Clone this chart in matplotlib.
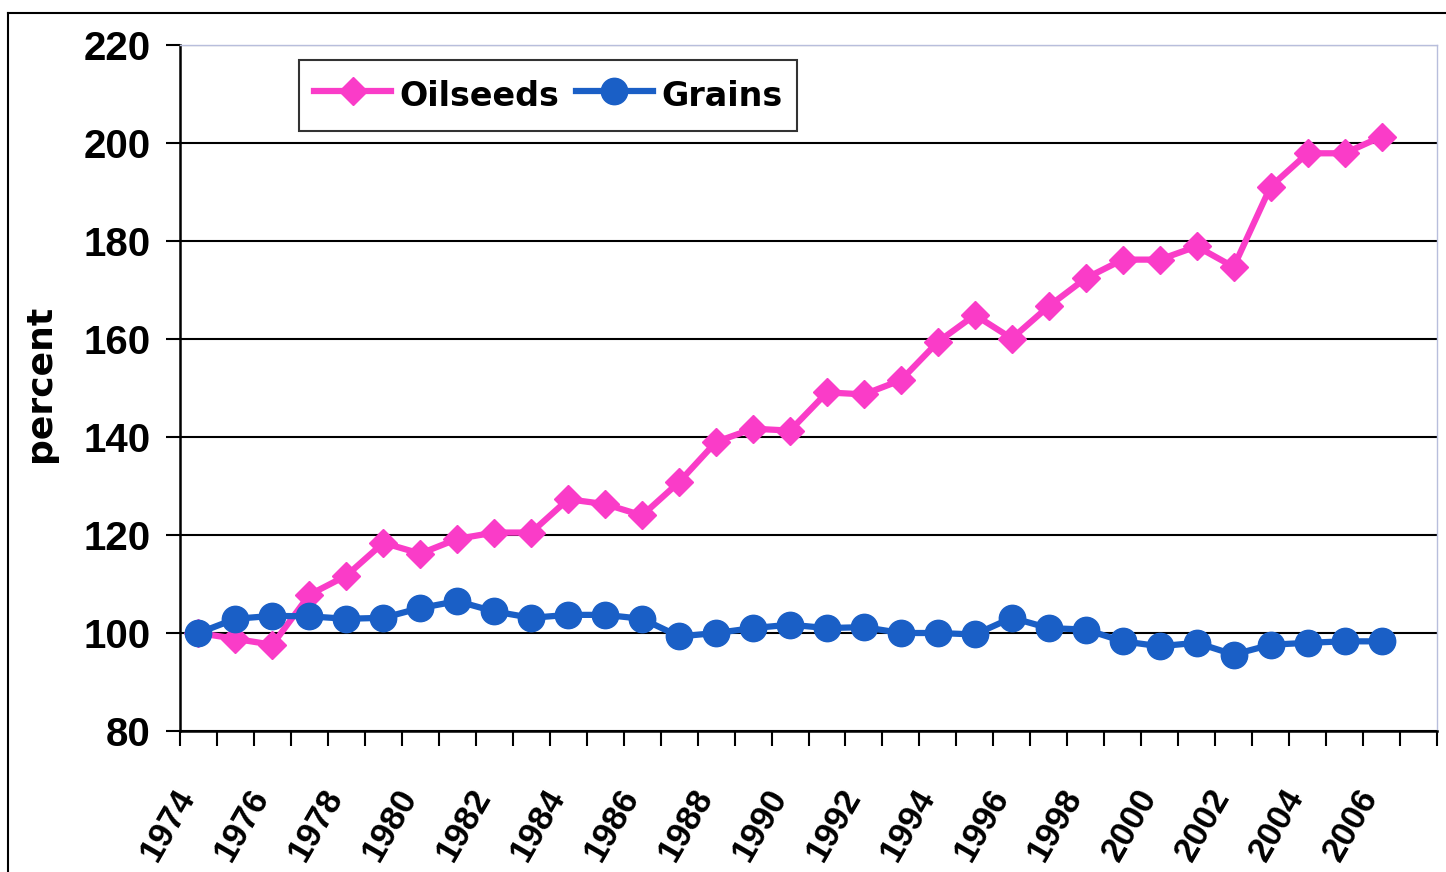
import numpy as np
import matplotlib
matplotlib.use('Agg')
import matplotlib.pyplot as plt
import matplotlib.transforms as mtransforms
from matplotlib.lines import Line2D

# Daten
years = list(range(1974, 2008))  # 2007 ist leere Kategorie
oilseeds = [100.0, 98.8, 97.6, 107.8, 111.7, 118.4, 116.2, 119.2, 120.5, 120.5,
            127.3, 126.3, 124.0, 130.8, 139.0, 141.7, 141.3, 149.1, 148.7, 151.6,
            159.4, 164.9, 160.1, 166.7, 172.4, 176.2, 176.2, 178.9, 174.7, 191.1,
            197.9, 197.9, 201.3]
grains = [100.0, 102.9, 103.5, 103.4, 102.9, 103.1, 105.1, 106.5, 104.4, 103.1,
          103.7, 103.7, 102.9, 99.3, 100.0, 101.0, 101.7, 101.0, 101.2, 100.0,
          100.0, 99.7, 103.1, 101.0, 100.7, 98.3, 97.3, 98.0, 95.6, 97.6,
          98.0, 98.3, 98.3]
y_ticks = [80, 100, 120, 140, 160, 180, 200, 220]

pink = '#FA3CC8'
blue = '#1A5FC6'
tickfont = ['Liberation Sans', 'DejaVu Sans']

fig = plt.figure(figsize=(14.46, 8.72), dpi=100)
ax = fig.add_axes([180/1446, 1-731/872, (1437-180)/1446, (731-45)/872])

x = np.arange(len(oilseeds))
ax.plot(x, oilseeds, '-D', color=pink, lw=4.5, ms=14, label='Oilseeds', zorder=3)
ax.plot(x, grains, '-o', color=blue, lw=4.5, ms=19, label='Grains', zorder=4)

ax.set_xlim(-0.5, len(years) - 0.5)
ax.set_ylim(80, 220)

ax.set_yticks(y_ticks)
ax.set_yticklabels([str(v) for v in y_ticks], fontsize=29, fontweight='bold', family=tickfont)
ax.tick_params(axis='y', length=10, width=1.5, pad=11, direction='out')
ax.yaxis.grid(True, color='black', lw=1.5)
ax.set_axisbelow(True)

# Tickmarks zwischen den Kategorien, Beschriftung jedes zweite Jahr
ax.set_xticks(np.arange(-0.5, len(years)))
ax.set_xticklabels([])
ax.tick_params(axis='x', length=11, width=1.5, direction='out')
off = mtransforms.ScaledTranslation(0, -0.6, fig.dpi_scale_trans)
for i in range(0, len(oilseeds), 2):
    ax.text(i - 0.3, 80, str(years[i]), rotation=60, rotation_mode='anchor',
            ha='right', va='center', fontsize=25, fontweight='bold', family=tickfont,
            transform=ax.transData + off, clip_on=False)

ax.set_ylabel('percent', fontsize=26, fontweight='bold')
ax.yaxis.set_label_coords(-0.098, 0.507)

for s in ['left', 'bottom']:
    ax.spines[s].set_linewidth(1.8)
    ax.spines[s].set_color('black')
for s in ['top', 'right']:
    ax.spines[s].set_linewidth(1.0)
    ax.spines[s].set_color('#B8BEDC')

leg = ax.legend(loc='upper left', bbox_to_anchor=(0.095, 0.978), ncol=2,
                prop={'size': 24, 'weight': 'bold'}, frameon=True, fancybox=False,
                handlelength=2.3, handleheight=1.5, columnspacing=0.5, handletextpad=0.25,
                borderpad=0.45, borderaxespad=0)
leg.get_frame().set_edgecolor('black')
leg.get_frame().set_linewidth(1.5)

# Rahmen des Diagrammbereichs
fig.add_artist(Line2D([8/1446, 1.0], [1-13/872, 1-13/872], color='black', lw=1.5))
fig.add_artist(Line2D([8/1446, 8/1446], [0, 1-13/872], color='black', lw=1.5))

fig.savefig('out.png', dpi=100)
